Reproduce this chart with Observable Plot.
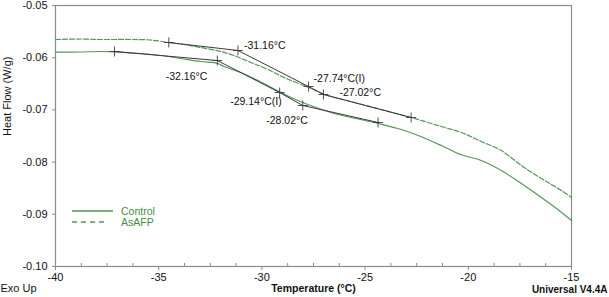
<!DOCTYPE html>
<html>
<head>
<meta charset="utf-8">
<script src="https://cdn.jsdelivr.net/npm/d3@7"></script>
<script src="https://cdn.jsdelivr.net/npm/@observablehq/plot@0.6"></script>
<style>
  html, body { margin: 0; padding: 0; background: #fff; }
  #wrap { position: relative; width: 609px; height: 297px; font-family: Arial, "Liberation Sans", sans-serif; }
  #legend { position: absolute; left: 72px; top: 205px; font-size: 10.5px; color: #3f8f3f; }
  #legend .row { display: flex; align-items: center; height: 11px; }
  #legend svg { margin-right: 8px; }
</style>
</head>
<body>
<div id="wrap"></div>
<script>
// ---- data ----
const controlT = [-40.00, -38.79, -37.82, -37.14, -35.87, -34.90, -33.93, -32.96, -32.14, -31.84, -31.02, -30.19, -29.08, -28.59, -27.77, -26.50, -25.44, -24.37, -23.25, -22.43, -21.31, -20.34, -19.37, -18.40, -17.43, -16.46, -15.73, -15.00];
const controlHF = [-0.05895, -0.05891, -0.05881, -0.05887, -0.05920, -0.05958, -0.06015, -0.06073, -0.06111, -0.06169, -0.06284, -0.06437, -0.06667, -0.06762, -0.06897, -0.07069, -0.07165, -0.07261, -0.07375, -0.07490, -0.07682, -0.07860, -0.07969, -0.08161, -0.08410, -0.08678, -0.08889, -0.09119];

const asafpT = [-40.00, -38.79, -37.82, -36.36, -35.39, -34.51, -33.79, -32.96, -31.99, -31.36, -30.53, -29.81, -28.93, -27.72, -26.94, -25.68, -24.22, -22.77, -21.31, -20.34, -19.37, -18.40, -17.43, -16.46, -15.49, -15.00];
const asafpHF = [-0.05651, -0.05642, -0.05651, -0.05651, -0.05661, -0.05709, -0.05747, -0.05805, -0.05881, -0.05958, -0.06092, -0.06207, -0.06379, -0.06571, -0.06705, -0.06839, -0.06992, -0.07146, -0.07318, -0.07433, -0.07605, -0.07778, -0.08065, -0.08314, -0.08544, -0.08678];

// tangent constructions (analysis markers)
const controlMarkT = [-37.14, -32.16, -29.14, -28.02, -24.37];
const controlMarkHF = [-0.05881, -0.06054, -0.06667, -0.06916, -0.07241];
const controlMarkLabel = ["", "-32.16°C", "-29.14°C(I)", "-28.02°C", ""];

const asafpMarkT = [-34.51, -31.16, -27.74, -27.02, -22.77];
const asafpMarkHF = [-0.05709, -0.05862, -0.06552, -0.06705, -0.07146];
const asafpMarkLabel = ["", "-31.16°C", "-27.74°C(I)", "-27.02°C", ""];

const xTicks = [-40, -35, -30, -25, -20, -15];
const xMinorTicks = [-38.75, -37.5, -36.25, -33.75, -32.5, -31.25, -28.75, -27.5, -26.25, -23.75, -22.5, -21.25, -18.75, -17.5, -16.25];
const yTicks = [-0.10, -0.09, -0.08, -0.07, -0.06, -0.05];

const seriesNames = ["Control", "AsAFP"];

// ---- build tables ----
const control = controlT.map((t, i) => ({t, hf: controlHF[i]}));
const asafp = asafpT.map((t, i) => ({t, hf: asafpHF[i]}));
const cMarks = controlMarkT.map((t, i) => ({t, hf: controlMarkHF[i], label: controlMarkLabel[i]}));
const aMarks = asafpMarkT.map((t, i) => ({t, hf: asafpMarkHF[i], label: asafpMarkLabel[i]}));

// label placement offsets (pixels) per marker label
const labelStyle = {
  "-32.16°C": {dx: -10, dy: 16, anchor: "end"},
  "-29.14°C(I)": {dx: 2, dy: 9, anchor: "end"},
  "-28.02°C": {dx: 5, dy: 15, anchor: "end"},
  "-31.16°C": {dx: 6, dy: -5, anchor: "start"},
  "-27.74°C(I)": {dx: 5, dy: -8, anchor: "start"},
  "-27.02°C": {dx: 16, dy: -2, anchor: "start"}
};
const labels = [...cMarks, ...aMarks].filter(d => d.label);

const green = "#55965a";
const dark = "#3a3a3a";
const axisGray = "#8c8c8c";

const chart = Plot.plot({
  width: 609,
  height: 297,
  marginLeft: 55,
  marginRight: 38,
  marginTop: 5,
  marginBottom: 31,
  style: {fontFamily: "Arial, 'Liberation Sans', sans-serif", fontSize: "11px", color: "#111", background: "#fff"},
  x: {domain: [-40, -15]},
  y: {domain: [-0.10, -0.05]},
  marks: [
    Plot.frame({stroke: axisGray, strokeWidth: 1.2}),
    Plot.axisX({ticks: xTicks, tickSize: 4, tickPadding: 3, tickFormat: d => String(d), label: null, stroke: axisGray, fontSize: 11, fill: "#111"}),
    Plot.axisX({ticks: xMinorTicks, tickSize: -3, tickFormat: () => "", label: null, stroke: axisGray}),
    Plot.axisY({ticks: yTicks, tickSize: 3, tickPadding: 5, tickFormat: d => d.toFixed(2), label: null, stroke: axisGray, fontSize: 11, fill: "#111"}),
    Plot.text(["Heat Flow (W/g)"], {frameAnchor: "left", dx: -48, rotate: -90, fontSize: 11, fill: "#111"}),
    Plot.text(["Temperature (°C)"], {frameAnchor: "bottom", dy: 25, fontSize: 10.5, fontWeight: "bold", fill: "#111"}),
    Plot.text(["Exo Up"], {frameAnchor: "bottom-left", dx: -55, dy: 25, textAnchor: "start", fontSize: 11, fill: "#111"}),
    Plot.text(["Universal V4.4A"], {frameAnchor: "bottom-right", dx: 36, dy: 26, textAnchor: "end", fontSize: 10, fontWeight: "bold", fill: "#111"}),
    Plot.line(control, {x: "t", y: "hf", stroke: green, strokeWidth: 1.2, curve: "catmull-rom"}),
    Plot.line(asafp, {x: "t", y: "hf", stroke: green, strokeWidth: 1.2, strokeDasharray: "5,2", curve: "catmull-rom"}),
    Plot.line(cMarks, {x: "t", y: "hf", stroke: dark, strokeWidth: 1}),
    Plot.line(aMarks, {x: "t", y: "hf", stroke: dark, strokeWidth: 1}),
    Plot.dot([...cMarks, ...aMarks], {x: "t", y: "hf", symbol: "plus", r: 3.3, stroke: dark, strokeWidth: 0.9}),
    ...labels.map(d => Plot.text([d], {x: "t", y: "hf", text: "label", dx: labelStyle[d.label].dx, dy: labelStyle[d.label].dy, textAnchor: labelStyle[d.label].anchor, fontSize: 10.5, fill: "#111"}))
  ]
});

const wrap = document.getElementById("wrap");
wrap.appendChild(chart);

// legend
const legend = document.createElement("div");
legend.id = "legend";
seriesNames.forEach((name, i) => {
  const row = document.createElement("div");
  row.className = "row";
  const len = i === 0 ? 41 : 33;
  row.innerHTML = `<svg width="41" height="4"><line x1="0" x2="${len}" y1="2" y2="2" stroke="${green}" stroke-width="1.3" ${i === 1 ? 'stroke-dasharray="5,4"' : ''}></line></svg><span>${name}</span>`;
  legend.appendChild(row);
});
wrap.appendChild(legend);
</script>
</body>
</html>
